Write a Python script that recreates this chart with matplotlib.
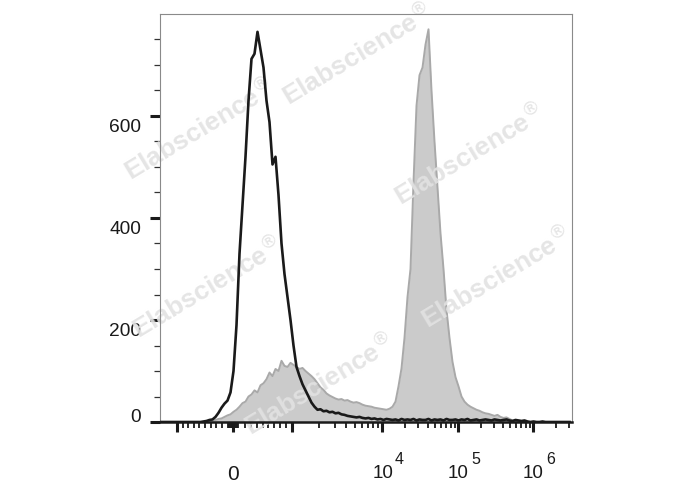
import numpy as np
import matplotlib
matplotlib.use("Agg")
import matplotlib.pyplot as plt
import matplotlib.transforms as mtransforms
from matplotlib.ticker import FixedLocator, NullFormatter

plt.rcParams['font.family'] = ['Liberation Sans', 'DejaVu Sans']

# biexponential-like display: linear between -1000 and 1000, log above
W_ANCH = [-2, -1, 0, 1, 2, 3, 4, 5]
CH_ANCH = [-73, 17, 73, 132, 222, 298, 373, 448]   # display channels (0..412 on axis)


def to_w(v):
    v = np.asarray(v, dtype=float)
    a = np.abs(v)
    return np.where(a <= 1000, v / 1000, np.sign(v) * (1 + np.log10(np.maximum(a, 1000) / 1000)))


def from_w(w):
    w = np.asarray(w, dtype=float)
    a = np.abs(w)
    return np.where(a <= 1, w * 1000, np.sign(w) * 1000 * 10 ** (np.maximum(a, 1) - 1))


def fwd(v):
    return np.interp(to_w(v), W_ANCH, CH_ANCH)


def inv(c):
    return from_w(np.interp(c, CH_ANCH, W_ANCH))


# histogram channels (3 display channels per bin), counts
channel_bins = 1.5 + 3 * np.arange(137)

black_counts = [0, 0, 0, 0, 0, 0, 0, 0, 0, 0, 0, 0, 0, 0,
                1, 2, 4, 5, 10, 18, 28, 36, 42, 58, 100, 190, 330, 425, 520, 630,
                712, 722, 765, 730, 695, 630, 588, 505, 520, 445, 350, 290, 245, 200,
                150, 108, 90, 74, 62, 50, 38, 30, 24, 25, 21, 22, 19, 20, 17, 18,
                15, 14, 12, 11, 10, 9, 10, 8, 7, 8, 6, 7, 5, 6, 4, 6, 5, 4,
                5, 3, 6, 4, 5, 4, 6, 3, 5, 4, 4,
                6, 3, 5, 4, 5, 3, 6, 4, 4, 5, 3,
                5, 4, 6, 3, 4, 5, 3, 4, 5, 4, 3,
                5, 4, 3, 4, 5, 3, 2, 4, 3, 2, 3,
                1, 0, 1, 0, 0, 1, 0, 0, 0, 0, 0, 0, 0, 0, 0]

gray_counts = [0, 0, 0, 0, 0, 0, 0, 0, 0, 0, 0, 0, 0, 0, 0, 0,
               1, 2, 4, 6, 7, 10, 13, 15, 20, 24, 30, 37, 40, 50, 54, 62, 58, 72,
               76, 84, 97, 90, 104, 100, 120, 110, 108, 116, 112, 108, 104, 106, 100, 95,
               90, 84, 76, 68, 63, 56, 52, 49, 46, 44, 45, 42, 43, 40, 38, 39,
               37, 34, 32, 31, 30, 28, 27, 26, 25, 24, 26, 30, 40, 70, 105, 165,
               245, 300, 470, 620, 680, 695, 740, 770, 650, 550, 460, 370, 300, 220,
               165, 118, 88, 70, 50, 40, 34, 30, 27, 24, 22, 19, 17, 16, 14, 12,
               14, 10, 8, 9, 6, 3, 1,
               0, 0, 0, 0, 0, 0, 0, 0, 0, 0, 0, 0, 0, 0, 0, 0, 0, 0]

x_major = [-1000, 0, 1000, 1e4, 1e5, 1e6]
x_labels = ['', '0', '', '', '', '']
decades = [(1e4, '4'), (1e5, '5'), (1e6, '6')]
x_minor = ([-v for v in range(200, 1000, 100)] + [-v for v in range(10, 100, 15)]
           + list(range(10, 100, 15)) + list(range(200, 1000, 100))
           + [m * 10 ** e for e in (3, 4, 5) for m in range(2, 10)] + [2e6, 3e6])
y_major = [0, 200, 400, 600]
y_minor = [50, 100, 150, 250, 300, 350, 450, 500, 550, 650, 700, 750]

watermarks = [(358, 55), (200, 130), (470, 155), (208, 288), (497, 278), (320, 385)]

fig = plt.figure(figsize=(6.88, 4.9), dpi=100)
ax = fig.add_axes([160 / 688, 1 - 422 / 490, 412 / 688, 408 / 490])
ax.set_xscale('function', functions=(fwd, inv))

x = inv(channel_bins)
ax.fill_between(x, gray_counts, 0, color='#cbcbcb', lw=0, zorder=1)
ax.plot(x, gray_counts, color='#a9a9a9', lw=1.4, zorder=1.5)
ax.plot(x, black_counts, color='#1a1a1a', lw=1.9, zorder=3)

ax.set_xlim(inv(0), inv(412))
ax.set_ylim(0, 800)

for sp in ['top', 'right', 'left']:
    ax.spines[sp].set_color('#8a8a8a')
    ax.spines[sp].set_linewidth(0.8)
ax.spines['bottom'].set_color('#1a1a1a')
ax.spines['bottom'].set_linewidth(1.8)

ax.xaxis.set_major_locator(FixedLocator(x_major))
ax.xaxis.set_minor_locator(FixedLocator(x_minor))
ax.set_xticklabels(x_labels)
ax.xaxis.set_minor_formatter(NullFormatter())
ax.yaxis.set_major_locator(FixedLocator(y_major))
ax.yaxis.set_minor_locator(FixedLocator(y_minor))
ax.set_yticklabels([str(v) for v in y_major])

ax.tick_params(axis='both', which='major', direction='out', length=7.5, width=2.2,
               color='#1a1a1a', labelcolor='#1a1a1a')
ax.tick_params(axis='y', which='major', labelsize=13.8, pad=6)
ax.tick_params(axis='x', which='major', labelsize=15, pad=34)
ax.tick_params(axis='x', which='minor', direction='out', length=4.5, width=1.3, color='#1a1a1a')
ax.tick_params(axis='y', which='minor', direction='out', length=4, width=0.9, color='#333333')
for lab in ax.get_xticklabels():
    lab.set_verticalalignment('baseline')

# decade labels: "10" with a large exponent, as in the cytometer export
for v, e in decades:
    ax.annotate('10', xy=(v, 0), xycoords=('data', 'axes fraction'), xytext=(11, -56),
                textcoords='offset pixels', ha='right', va='baseline', fontsize=13.5,
                color='#1a1a1a', annotation_clip=False)
    ax.annotate(e, xy=(v, 0), xycoords=('data', 'axes fraction'), xytext=(13, -42),
                textcoords='offset pixels', ha='left', va='baseline', fontsize=11.5,
                color='#1a1a1a', annotation_clip=False)

# y labels sit slightly below their ticks, the 0 label slightly above
for lab, v in zip(ax.get_yticklabels(), y_major):
    dy = 5 / 72 if v == 0 else -7 / 72
    lab.set_transform(lab.get_transform() + mtransforms.ScaledTranslation(0, dy, fig.dpi_scale_trans))

for (px, py) in watermarks:
    ax.text(px / 688, 1 - py / 490, r'Elabscience$^{\circledR}$', transform=fig.transFigure,
            fontsize=19, fontweight='bold', color='#e2e2e2', alpha=0.9,
            rotation=31, ha='center', va='center', rotation_mode='anchor',
            clip_on=False, zorder=2)

fig.savefig('out.png', dpi=100)
